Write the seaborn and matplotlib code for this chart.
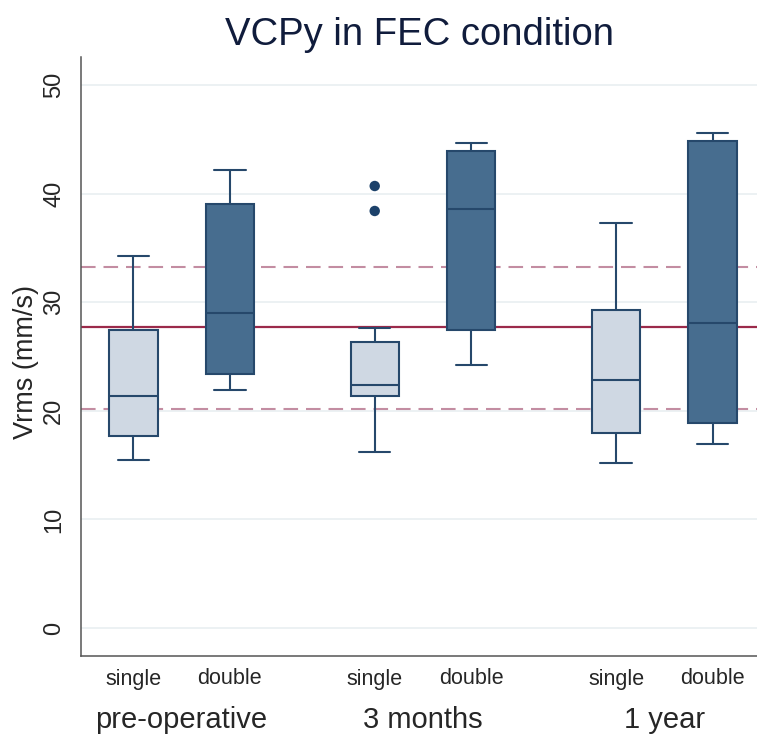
import matplotlib
matplotlib.use("Agg")
import matplotlib.pyplot as plt
import numpy as np
import pandas as pd
import seaborn as sns

# ---------------- data ----------------
timepoints = ["pre-operative", "3 months", "1 year"]
leg_types = ["single", "double"]
# order: (pre single, pre double, 3m single, 3m double, 1y single, 1y double)
whisker_low = [15.5, 21.9, 16.2, 24.2, 15.2, 16.9]
q1 = [17.7, 23.4, 21.4, 27.4, 18.0, 18.85]
median = [21.4, 29.0, 22.4, 38.6, 22.8, 28.1]
q3 = [27.4, 39.0, 26.3, 43.9, 29.3, 44.8]
whisker_high = [34.3, 42.2, 27.6, 44.7, 37.3, 45.6]

outlier_time = ["3 months", "3 months"]
outlier_type = ["single", "single"]
outlier_values = [40.7, 38.4]

ref_mean = 27.75
ref_low = 20.2
ref_high = 33.2

y_ticks = [0, 10, 20, 30, 40, 50]
title = "VCPy in FEC condition"
ylabel = "Vrms (mm/s)"

# ---------------- build tidy tables ----------------
rows = []
k = 0
for t in timepoints:
    for g in leg_types:
        for v in (whisker_low[k], q1[k], median[k], q3[k], whisker_high[k]):
            rows.append({"time": t, "type": g, "value": v})
        k += 1
df = pd.DataFrame(rows)
out_df = pd.DataFrame({"time": outlier_time, "type": outlier_type, "value": outlier_values})

# ---------------- style ----------------
sns.set_style("white")
plt.rcParams["font.family"] = ["Liberation Sans", "DejaVu Sans"]

edge = "#26486b"
pal = {"single": "#cfd8e3", "double": "#476d8f"}
dot_pal = {"single": "#1c416a", "double": "#1c416a"}

fig = plt.figure(figsize=(7.57, 7.36), dpi=100)
ax = fig.add_axes([81 / 757, 80 / 736, 1 - 81 / 757, (656 - 57) / 736])

ax.set_axisbelow(True)
ax.yaxis.grid(True, color="#e9eff1", linewidth=1.2, zorder=0)

ax.axhline(ref_mean, color="#9b2a4a", linewidth=1.6, zorder=1)
for r in (ref_low, ref_high):
    ax.axhline(r, color="#c38da2", linewidth=1.5, dashes=(7, 3.8), zorder=1)

sns.boxplot(
    data=df, x="time", y="value", hue="type",
    order=timepoints, hue_order=leg_types, palette=pal, saturation=1,
    width=0.8, gap=0.5, whis=(0, 100), showfliers=False,
    linecolor=edge, linewidth=1.5, legend=False, ax=ax,
    capwidths=0.13,
)

sns.stripplot(
    data=out_df, x="time", y="value", hue="type",
    order=timepoints, hue_order=leg_types, palette=dot_pal,
    dodge=True, jitter=False, size=7.5, legend=False, ax=ax, zorder=5,
)

# ---------------- axes ----------------
ax.set_xlim(-0.417, 2.384)
ax.set_ylim(-2.58, 52.58)
ax.set_yticks(y_ticks)
ax.set_yticklabels([str(v) for v in y_ticks], fontsize=17, rotation=90, va="center")
ax.tick_params(axis="y", length=5, width=1, color="#555555", pad=6.5)

ax.set_xticks(range(len(timepoints)))
ax.set_xticklabels(timepoints, fontsize=21)
ax.tick_params(axis="x", which="major", length=0, pad=36)
n_h = len(leg_types)
offs = [(-0.4 + 0.8 * (j + 0.5) / n_h) for j in range(n_h)]
minor_pos = [i + o for i in range(len(timepoints)) for o in offs]
ax.set_xticks(minor_pos, minor=True)
ax.set_xticklabels(leg_types * len(timepoints), minor=True, fontsize=15.5)
ax.tick_params(axis="x", which="minor", length=0, pad=9)

ax.set_xlabel("")
ax.set_ylabel(ylabel, fontsize=19.5)
ax.yaxis.set_label_coords((39 - 81) / 676, 0.49)

for s in ("top", "right"):
    ax.spines[s].set_visible(False)
for s in ("left", "bottom"):
    ax.spines[s].set_color("#555555")
    ax.spines[s].set_linewidth(1.1)

fig.text((81 + 757) / 2 / 757, 1 - 45 / 736, title, ha="center", va="baseline",
         fontsize=27.5, color="#101c3c")

fig.savefig("out.png", dpi=100)
